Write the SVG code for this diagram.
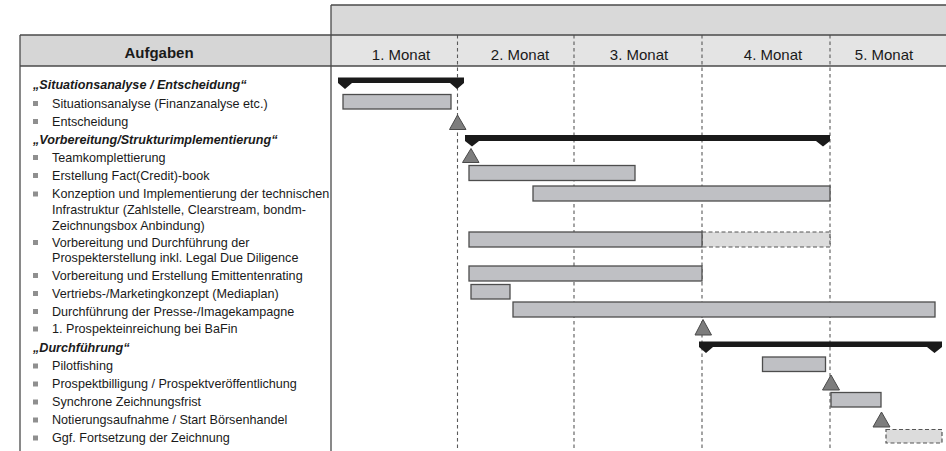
<svg xmlns="http://www.w3.org/2000/svg" width="946" height="451" viewBox="0 0 946 451">
<style>
.frame{stroke:#4a4a4a;stroke-width:1.3;fill:none}
.grid{stroke:#5a5a5a;stroke-width:1.1;stroke-dasharray:3.5 3;fill:none}
.mon{font-family:"Liberation Sans",Arial,sans-serif;font-size:15px;fill:#1a1a1a;text-anchor:middle}
.hd{font-family:"Liberation Sans",Arial,sans-serif;font-size:15px;font-weight:bold;fill:#1a1a1a;text-anchor:middle}
.t{font-family:"Liberation Sans",Arial,sans-serif;font-size:12.6px;fill:#1a1a1a}
.h{font-family:"Liberation Sans",Arial,sans-serif;font-size:12.6px;font-weight:bold;font-style:italic;fill:#1a1a1a}
.b{fill:#8f8f8f}
.task{fill:#bfc0c4;stroke:#4d4d4d;stroke-width:1.3}
.opt{fill:#dcdcdc;stroke:#555;stroke-width:1.2;stroke-dasharray:4 2.5}
.sum{fill:#1a1a1a}
.ms{fill:#7d7d7d;stroke:#4a4a4a;stroke-width:1}
</style>
<rect x="0" y="0" width="946" height="451" fill="#fff"/>
<g id="header">
<rect x="331" y="5" width="620" height="30" fill="#d9d9d9"/>
<rect x="331" y="35" width="620" height="31" fill="#e4e4e4"/>
<rect x="20" y="35" width="311" height="31" fill="#d6d6d6"/>
<text class="hd" x="159" y="58">Aufgaben</text>
<text class="mon" x="401" y="60">1. Monat</text>
<text class="mon" x="520" y="60">2. Monat</text>
<text class="mon" x="639" y="60">3. Monat</text>
<text class="mon" x="773" y="60">4. Monat</text>
<text class="mon" x="884" y="60">5. Monat</text>
</g>
<g id="connectors">
<line class="grid" x1="457.5" y1="35" x2="457.5" y2="451"/>
<line class="grid" x1="574" y1="35" x2="574" y2="451"/>
<line class="grid" x1="702" y1="35" x2="702" y2="451"/>
<line class="grid" x1="830" y1="35" x2="830" y2="451"/>
<line class="frame" x1="331" y1="5" x2="946" y2="5"/>
<line class="frame" x1="20" y1="35" x2="946" y2="35"/>
<line class="frame" x1="20" y1="66" x2="946" y2="66"/>
<line class="frame" x1="20" y1="35" x2="20" y2="451"/>
<line class="frame" x1="331" y1="5" x2="331" y2="451"/>
</g>
<g id="phase1">
<text class="h" x="33" y="89">„Situationsanalyse / Entscheidung“</text>
<polygon class="sum" points="338,77.5 464,77.5 464,83 457,89 450,83 352,83 345,89 338,83"/>
</g>
<g id="situationsanalyse">
<rect class="b" x="33" y="101" width="5" height="5"/>
<text class="t" x="52" y="107.5">Situationsanalyse (Finanzanalyse etc.)</text>
<rect class="task" x="343" y="94.5" width="108" height="14.5"/>
</g>
<g id="entscheidung">
<rect class="b" x="33" y="119" width="5" height="5"/>
<text class="t" x="52" y="125.5">Entscheidung</text>
<polygon class="ms" points="457.5,115 449.5,129.5 466,129.5"/>
</g>
<g id="phase2">
<text class="h" x="33" y="143.5">„Vorbereitung/Strukturimplementierung“</text>
<polygon class="sum" points="465,135 830,135 830,141 823,146.5 816,141 479,141 472,146.5 465,141"/>
</g>
<g id="team">
<rect class="b" x="33" y="155" width="5" height="5"/>
<text class="t" x="52" y="161.5">Teamkomplettierung</text>
<polygon class="ms" points="471,148.5 462.5,162.5 479,162.5"/>
</g>
<g id="factbook">
<rect class="b" x="33" y="173" width="5" height="5"/>
<text class="t" x="52" y="179.5">Erstellung Fact(Credit)-book</text>
<rect class="task" x="469" y="165.5" width="166" height="15"/>
</g>
<g id="konzeption">
<rect class="b" x="33" y="191.5" width="5" height="5"/>
<text class="t" x="52" y="198">Konzeption und Implementierung der technischen</text>
<text class="t" x="52" y="214">Infrastruktur (Zahlstelle, Clearstream, bondm-</text>
<text class="t" x="52" y="230">Zeichnungsbox Anbindung)</text>
<rect class="task" x="533" y="186" width="297" height="15"/>
</g>
<g id="prospekt">
<rect class="b" x="33" y="240" width="5" height="5"/>
<text class="t" x="52" y="246.5">Vorbereitung und Durchführung der</text>
<text class="t" x="52" y="262">Prospekterstellung inkl. Legal Due Diligence</text>
<rect class="opt" x="702" y="232" width="128" height="15"/>
<rect class="task" x="469" y="232" width="233" height="15"/>
</g>
<g id="rating">
<rect class="b" x="33" y="273" width="5" height="5"/>
<text class="t" x="52" y="279.5">Vorbereitung und Erstellung Emittentenrating</text>
<rect class="task" x="469" y="266" width="233" height="15"/>
</g>
<g id="marketing">
<rect class="b" x="33" y="291" width="5" height="5"/>
<text class="t" x="52" y="297.5">Vertriebs-/Marketingkonzept (Mediaplan)</text>
<rect class="task" x="471" y="284.5" width="39" height="14.5"/>
</g>
<g id="presse">
<rect class="b" x="33" y="309" width="5" height="5"/>
<text class="t" x="52" y="315.5">Durchführung der Presse-/Imagekampagne</text>
<rect class="task" x="513" y="302" width="422" height="15"/>
</g>
<g id="bafin">
<rect class="b" x="33" y="326.5" width="5" height="5"/>
<text class="t" x="52" y="333">1. Prospekteinreichung bei BaFin</text>
<polygon class="ms" points="703,319.5 695,335 711.5,335"/>
</g>
<g id="phase3">
<text class="h" x="33" y="351.5">„Durchführung“</text>
<polygon class="sum" points="699,341.5 942,341.5 942,347 934.5,353 927,347 713,347 706,353 699,347"/>
</g>
<g id="pilotfishing">
<rect class="b" x="33" y="363.5" width="5" height="5"/>
<text class="t" x="52" y="370">Pilotfishing</text>
<rect class="task" x="762.5" y="357" width="63" height="14.5"/>
</g>
<g id="billigung">
<rect class="b" x="33" y="381.5" width="5" height="5"/>
<text class="t" x="52" y="388">Prospektbilligung / Prospektveröffentlichung</text>
<polygon class="ms" points="831,375 822.5,390 839.5,390"/>
</g>
<g id="zeichnungsfrist">
<rect class="b" x="33" y="399.5" width="5" height="5"/>
<text class="t" x="52" y="406">Synchrone Zeichnungsfrist</text>
<rect class="task" x="831" y="392.5" width="50" height="14.5"/>
</g>
<g id="notierung">
<rect class="b" x="33" y="417.5" width="5" height="5"/>
<text class="t" x="52" y="424">Notierungsaufnahme / Start Börsenhandel</text>
<polygon class="ms" points="881.5,412 873,427 890,427"/>
</g>
<g id="fortsetzung">
<rect class="b" x="33" y="435.5" width="5" height="5"/>
<text class="t" x="52" y="442">Ggf. Fortsetzung der Zeichnung</text>
<rect class="opt" x="886" y="429.5" width="56" height="13.5"/>
</g>
</svg>
